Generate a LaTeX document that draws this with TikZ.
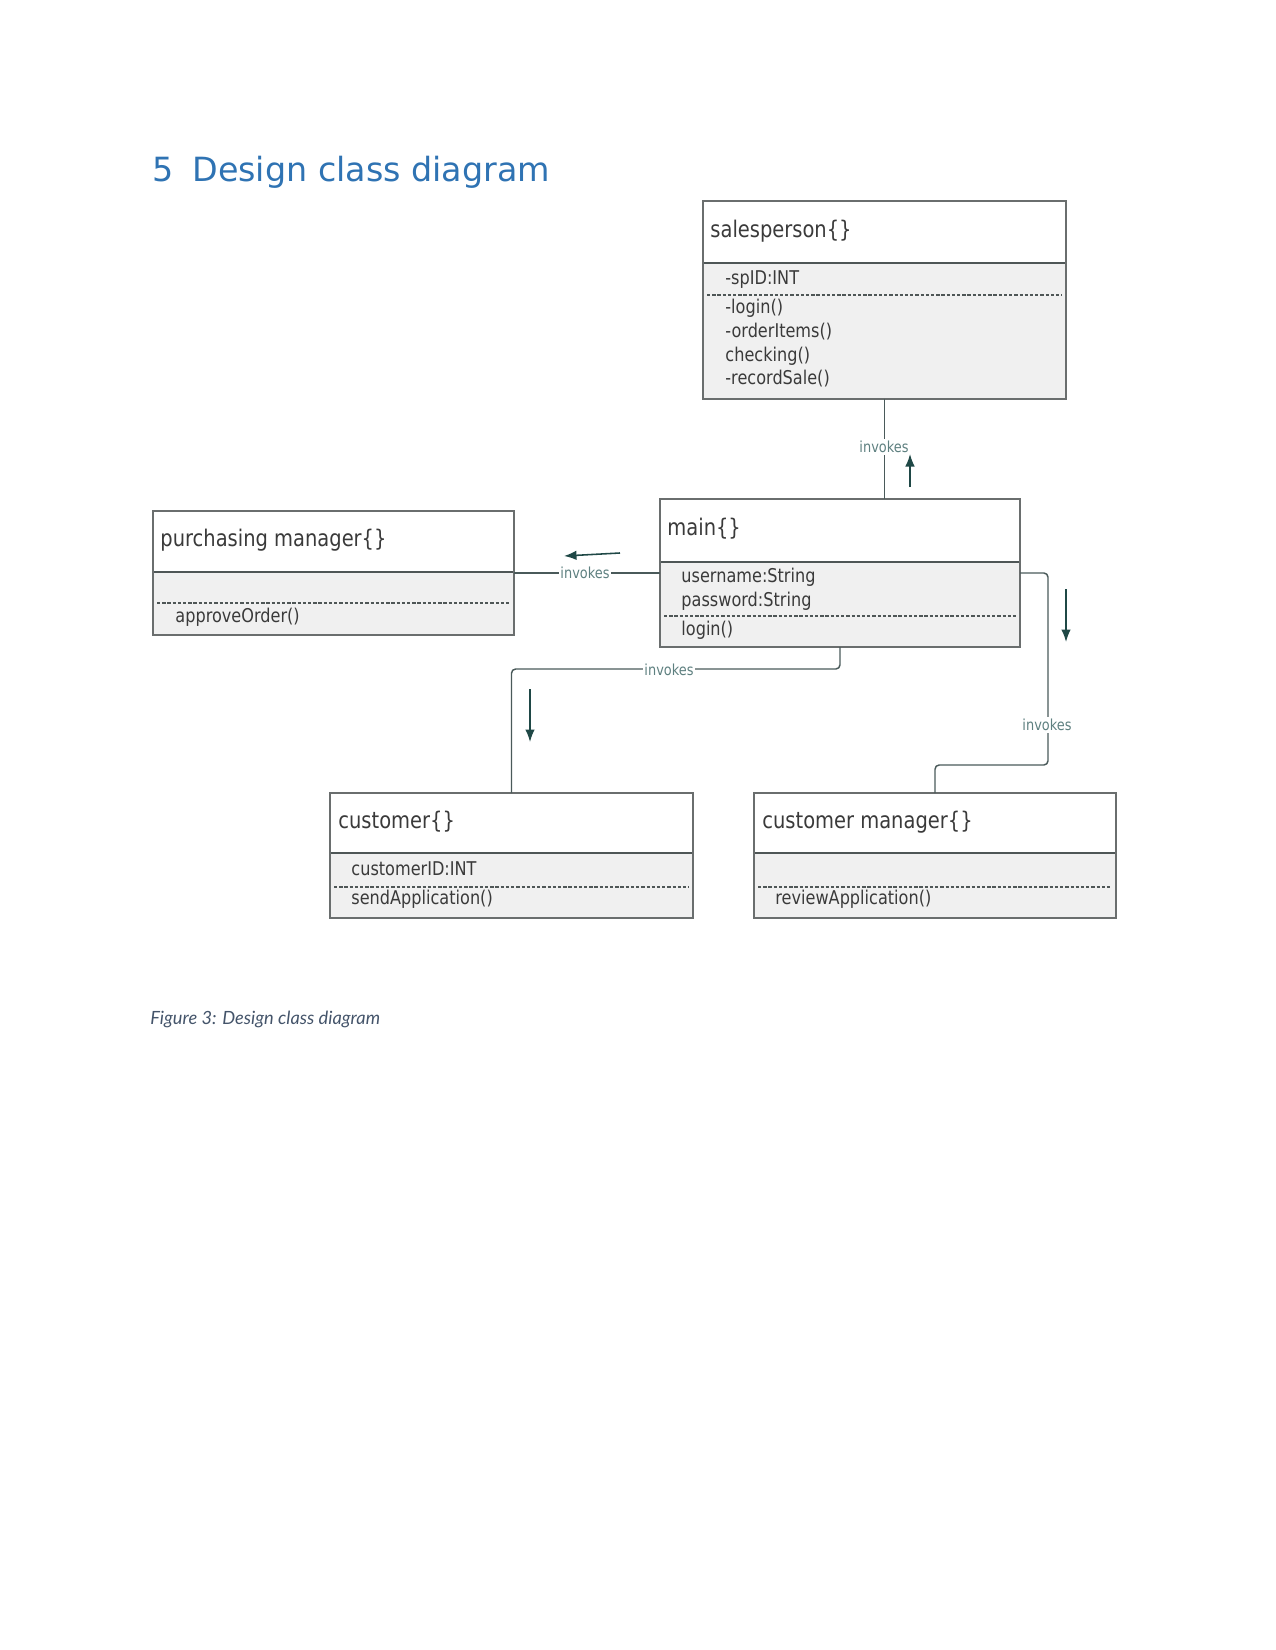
\documentclass[tikz,border=0pt]{standalone}
\usepackage{fontspec}
\usetikzlibrary{arrows.meta}
\newfontfamily\boxfont[FakeStretch=0.85]{DejaVu Sans}
\newfontfamily\headfont{DejaVu Sans}
\newfontfamily\capfont{Lato}
\definecolor{headblue}{HTML}{2F73B3}
\definecolor{linec}{HTML}{4A5A5A}
\definecolor{boxc}{HTML}{6A6E6E}
\definecolor{divc}{HTML}{4E5656}
\definecolor{lowfill}{HTML}{F0F0F0}
\definecolor{txtc}{HTML}{3A3A3A}
\definecolor{lblc}{HTML}{5E8080}
\definecolor{arrc}{HTML}{1F4846}
\definecolor{capc}{HTML}{44546A}
\tikzset{
  classbox/.style={draw=boxc, line width=0.75pt, inner sep=0pt, outer sep=0pt},
  ctitle/.style={anchor=west, inner sep=0pt, text=txtc, font=\boxfont\fontsize{11}{13}\selectfont},
  attr/.style={anchor=west, inner sep=0pt, text=txtc, font=\boxfont\fontsize{9.1}{10}\selectfont},
  lbl/.style={fill=white, inner sep=0.8pt, text=lblc, font=\boxfont\fontsize{7.3}{8}\selectfont},
  conn/.style={draw=linec, line width=0.7pt, rounded corners=2pt},
  arr/.style={draw=arrc, line width=0.75pt, -{Latex[length=6pt,width=4.6pt]}},
  divline/.style={draw=divc, line width=1pt},
  dashline/.style={draw=divc, line width=0.5pt, dash pattern=on 1.6pt off 0.9pt},
}
% name, x1, y1, x2, y2, divider y, dashed y
\newcommand\umlbox[7]{%
  \fill[white] (#2,#3) rectangle (#4,#6);
  \fill[lowfill] (#2,#6) rectangle (#4,#5);
  \draw[divline] (#2,#6) -- (#4,#6);
  \draw[dashline] (#2+4,#7) -- (#4-4,#7);
  \node[classbox, minimum width={(#4-#2)*0.48pt}, minimum height={(#5-#3)*0.48pt}] (#1) at ({(#2+#4)/2},{(#3+#5)/2}) {};
}
\begin{document}
\begin{tikzpicture}[x=0.48pt,y=-0.48pt]
\useasboundingbox (0,0) rectangle (1275,1650);

% heading
\node[anchor=base west, inner sep=0pt, text=headblue, font=\headfont\fontsize{16}{19}\selectfont] (hnum) at (152,182) {5};
\node[anchor=base west, inner sep=0pt, text=headblue, font=\headfont\fontsize{16}{19}\selectfont] (htitle) at (192,182) {Design class diagram};

% boxes
\umlbox{sp}{703}{201}{1066}{399}{263}{295}
\umlbox{main}{660}{499}{1020}{647}{562}{616}
\umlbox{pm}{153}{511}{514}{635}{572}{603}
\umlbox{cu}{330}{793}{693}{918}{853}{887}
\umlbox{cm}{754}{793}{1116}{918}{853}{887}

% salesperson
\node[ctitle] (spt) at (710,231) {salesperson\{\}};
\node[attr] (sp1) at (725,280) {-spID:INT};
\node[attr] (sp2) at (725,308) {-login()};
\node[attr] (sp3) at (725,332) {-orderItems()};
\node[attr] (sp4) at (725,356) {checking()};
\node[attr] (sp5) at (725,379) {-recordSale()};

% main
\node[ctitle] (maint) at (667,529) {main\{\}};
\node[attr] (m1) at (681,577) {username:String};
\node[attr] (m2) at (681,601) {password:String};
\node[attr] (m3) at (681,630) {login()};

% purchasing manager
\node[ctitle] (pmt) at (160,540) {purchasing manager\{\}};
\node[attr] (pm1) at (175,617) {approveOrder()};

% customer
\node[ctitle] (cut) at (338,822) {customer\{\}};
\node[attr] (cu1) at (351,869) {customerID:INT};
\node[attr] (cu2) at (351,899) {sendApplication()};

% customer manager
\node[ctitle] (cmt) at (762,822) {customer manager\{\}};
\node[attr] (cm1) at (775,899) {reviewApplication()};

% connectors
\draw[conn] (sp.south) -- (sp.south |- main.north);
\node[lbl] (l1) at (884,447) {invokes};

\draw[conn] (main.west) -- (main.west -| pm.east);
\node[lbl] (l2) at (585,573) {invokes};

\draw[conn] (main.south) -- ++(0,22) -| (cu.north);
\node[lbl] (l3) at (669,670) {invokes};

\draw[conn] (main.east) -| (1048,765) -| (cm.north);
\node[lbl] (l4) at (1047,725) {invokes};

% direction arrows
\coordinate (a1s) at (910,487); \coordinate (a1e) at (910,454);
\coordinate (a2s) at (620,553); \coordinate (a2e) at (564,556);
\coordinate (a3s) at (530,689); \coordinate (a3e) at (530,742);
\coordinate (a4s) at (1066,589); \coordinate (a4e) at (1066,642);
\draw[arr] (a1s) -- (a1e);
\draw[arr] (a2s) -- (a2e);
\draw[arr] (a3s) -- (a3e);
\draw[arr] (a4s) -- (a4e);

% caption
\node[anchor=base west, inner sep=0pt, text=capc, font=\capfont\itshape\fontsize{8.75}{11}\selectfont] (cap) at (150,1024) {Figure 3: Design class diagram};
\end{tikzpicture}
\end{document}
